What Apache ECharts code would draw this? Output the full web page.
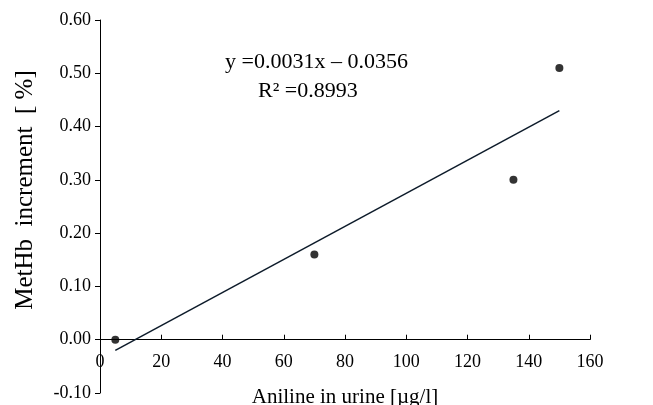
<!DOCTYPE html>
<html>
<head>
<meta charset="utf-8">
<script src="https://cdn.jsdelivr.net/npm/echarts@6/dist/echarts.min.js"></script>
<style>
html, body { margin: 0; padding: 0; background: #fff; }
#chart { width: 653px; height: 405px; }
</style>
</head>
<body>
<div id="chart"></div>
<script>
// measured points
var aniline = [5, 70, 135, 150];
var methb = [0.00, 0.16, 0.30, 0.51];
// trendline end points
var trendX = [5, 150];
var trendY = [-0.02, 0.43];
var eqLines = ["y =0.0031x \u2013 0.0356", "R\u00b2 =0.8993"];

var font = "Liberation Serif";
var chart = echarts.init(document.getElementById("chart"));
chart.setOption({
  animation: false,
  grid: { left: 100, right: 63, top: 20, bottom: 12, containLabel: false, outerBoundsMode: "none" },
  xAxis: {
    type: "value",
    min: 0,
    max: 160,
    interval: 20,
    name: "Aniline in urine [\u00b5g/l]",
    nameLocation: "middle",
    nameGap: -6,
    nameTextStyle: { fontFamily: font, fontSize: 21, color: "#000" },
    axisLine: { onZero: true, lineStyle: { color: "#000", width: 1 } },
    axisTick: { inside: true, length: 5, lineStyle: { color: "#000" } },
    axisLabel: { fontFamily: font, fontSize: 18, color: "#000", margin: -40 },
    splitLine: { show: false }
  },
  yAxis: {
    type: "value",
    min: -0.1,
    max: 0.6,
    interval: 0.1,
    axisLine: { show: true, onZero: false, lineStyle: { color: "#000", width: 1 } },
    axisTick: { show: true, length: 5, lineStyle: { color: "#000" } },
    axisLabel: {
      fontFamily: font, fontSize: 18, color: "#000", margin: 9,
      formatter: function (v) { return v.toFixed(2); }
    },
    splitLine: { show: false }
  },
  series: [
    {
      type: "line",
      data: trendX.map(function (x, i) { return [x, trendY[i]]; }),
      showSymbol: false,
      lineStyle: { color: "#0d1b2a", width: 1.5 },
      z: 1
    },
    {
      type: "scatter",
      data: aniline.map(function (x, i) { return [x, methb[i]]; }),
      symbolSize: 8,
      itemStyle: { color: "#000" },
      z: 2
    }
  ],
  graphic: [
    {
      type: "text", x: 25, y: 190, rotation: Math.PI / 2,
      style: {
        text: "MetHb  increment  [ %]", font: "25px " + font, fill: "#000",
        align: "center", verticalAlign: "middle"
      }
    },
    {
      type: "text", left: 225, top: 51,
      style: { text: eqLines[0], font: "22px " + font, fill: "#000" }
    },
    {
      type: "text", left: 258, top: 80,
      style: { text: eqLines[1], font: "22px " + font, fill: "#000" }
    }
  ]
});
</script>
</body>
</html>
